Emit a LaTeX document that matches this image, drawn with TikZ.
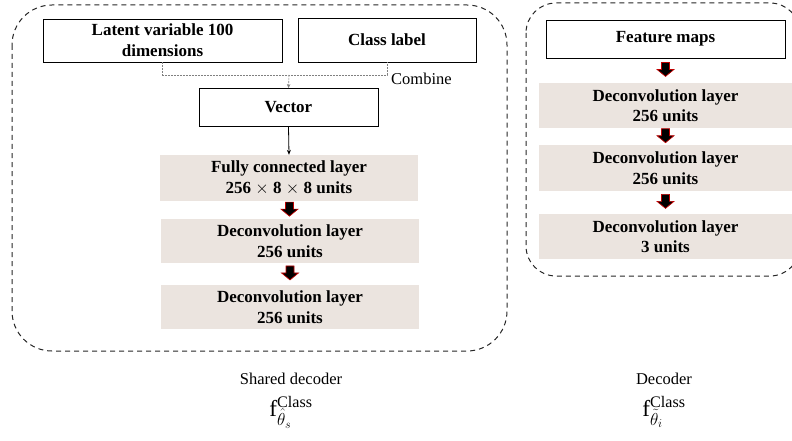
\documentclass[tikz,border=0pt]{standalone}
\usepackage{fontspec}
\setmainfont{Liberation Serif}
\usetikzlibrary{calc,arrows.meta}
\definecolor{layerfill}{HTML}{EBE4DF}
\definecolor{arrowred}{HTML}{C00000}

% thick black down arrow with a red outline, between two stacked nodes
\newcommand\blkarrow[2]{%
  \path (#1.south) -- (#2.north) coordinate[pos=0.45] (m);
  \draw[blk] ($(m)+(-4,-7)$) -- ($(m)+(4,-7)$) -- ($(m)+(4,0)$) -- ($(m)+(8.5,0)$)
    -- ($(m)+(0,7)$) -- ($(m)+(-8.5,0)$) -- ($(m)+(-4,0)$) -- cycle;}

\begin{document}
\begin{tikzpicture}[x=1pt,y=-1pt,
  plainbox/.style={draw, line width=0.9pt, fill=white, align=center,
    font=\bfseries\fontsize{17}{21}\selectfont, inner sep=0pt},
  layer/.style={fill=layerfill, align=center,
    font=\bfseries\fontsize{17}{20.5}\selectfont, inner sep=0pt},
  group/.style={draw=black!85, dash pattern=on 5pt off 4pt, line width=1pt},
  combine/.style={draw=black!50, dash pattern=on 2pt off 1pt, line width=0.6pt},
  blk/.style={fill=black, draw=arrowred, line width=0.7pt, line join=miter},
  caption/.style={font=\fontsize{16.5}{19}\selectfont},
  formula/.style={font=\fontsize{23}{24}\selectfont}
]
\useasboundingbox (0,0) rectangle (792,441);

% dashed group outlines
\draw[group, rounded corners=40pt] (12,5) rectangle (507,351);
\draw[group, rounded corners=30pt] (526,3) rectangle (800,276);

% shared decoder
\node[plainbox, minimum width=239pt, minimum height=43pt] (latent) at (162.5,40.5)
  {Latent variable 100\\dimensions};
\node[plainbox, minimum width=178pt, minimum height=44pt] (class) at (387,40) {Class label};
\node[plainbox, minimum width=179pt, minimum height=38pt] (vector) at (288.5,107.5) {Vector};
\node[layer, minimum width=258pt, minimum height=46pt] (fc) at (289,178)
  {Fully connected layer\\256 $\times$ 8 $\times$ 8 units};
\node[layer, minimum width=258pt, minimum height=44pt] (d1) at (290,241)
  {Deconvolution layer\\256 units};
\node[layer, minimum width=258pt, minimum height=44pt] (d2) at (290,307)
  {Deconvolution layer\\256 units};

\coordinate (join) at (289,75);
\draw[combine] (latent.south) |- (join) -| (class.south);
\draw[combine, -{Stealth[length=4pt,width=3.5pt]}] (join) -- (vector.north);
\node[caption, anchor=west, inner sep=0pt] (comb) at (391,79) {Combine};
\draw[line width=0.8pt, -{Stealth[length=5pt,width=4pt]}] (vector.south) -- (fc.north);
\blkarrow{fc}{d1}
\blkarrow{d1}{d2}

% decoder
\node[plainbox, minimum width=239pt, minimum height=38pt] (feat) at (665.5,39) {Feature maps};
\node[layer, minimum width=253pt, minimum height=45pt] (r1) at (665.5,105.5)
  {Deconvolution layer\\256 units};
\node[layer, minimum width=253pt, minimum height=46pt] (r2) at (665.5,168)
  {Deconvolution layer\\256 units};
\node[layer, minimum width=253pt, minimum height=45pt] (r3) at (665.5,236.5)
  {Deconvolution layer\\3 units};
\blkarrow{feat}{r1}
\blkarrow{r1}{r2}
\blkarrow{r2}{r3}

% captions
\node[caption] (cap1) at (291,379) {Shared decoder};
\node[caption] (cap2) at (664,379) {Decoder};
\node[formula] (f1) at (291,412) {$\mathrm{f}^{\mathrm{Class}}_{\hat{\theta}_s}$};
\node[formula] (f2) at (664,412) {$\mathrm{f}^{\mathrm{Class}}_{\tilde{\theta}_i}$};
\end{tikzpicture}
\end{document}
